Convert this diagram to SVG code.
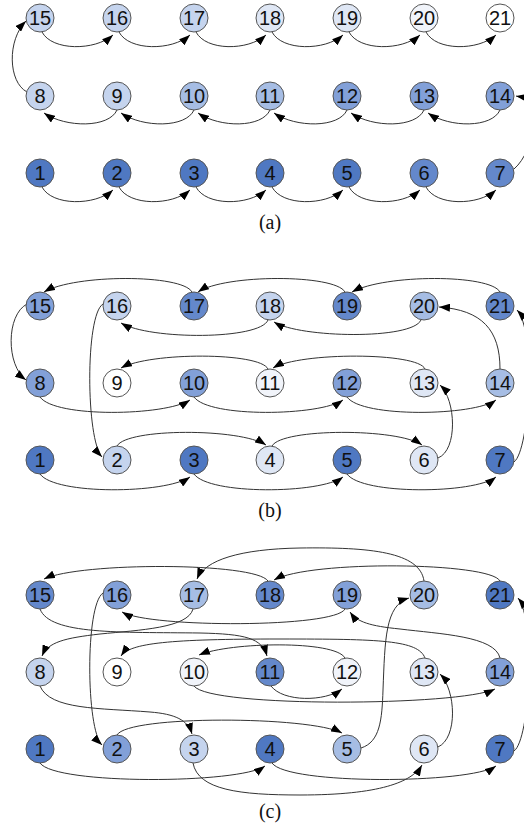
<svg xmlns="http://www.w3.org/2000/svg" width="524" height="826" viewBox="0 0 524 826">
  <defs>
    <marker id="arr" viewBox="0 0 11 8" refX="11" refY="4" markerWidth="11" markerHeight="8" markerUnits="userSpaceOnUse" orient="auto">
      <path d="M0,0 L11,4 L0,8 z" fill="#000"/>
    </marker>
    <style>
      .node circle { stroke: #555; stroke-width: 1; }
      .node text { fill: #111; text-anchor: middle; font-family: 'Liberation Sans', Arial, sans-serif; font-size: 20px; }
      .edges path { fill: none; stroke: #333; stroke-width: 1; marker-end: url(#arr); }
      .cap { fill: #111; text-anchor: middle; font-family: 'Liberation Serif', 'Times New Roman', serif; font-size: 20px; }
      .k1 { fill: #4F78C2; }
      .k2 { fill: #6488CB; }
      .k3 { fill: #82A0D8; }
      .k4 { fill: #A6BDE4; }
      .k5 { fill: #C5D4EE; }
      .k6 { fill: #DFE7F5; }
      .k7 { fill: #F1F4FA; }
      .k8 { fill: #FFFFFF; }
    </style>
  </defs>
  <rect width="524" height="826" fill="#fff"/>

  <!-- ===== panel (a): boustrophedon order ===== -->
  <g id="a-edges" class="edges">
    <path d="M42,187 C52,206 95,206 113,190"/>
    <path d="M119,187 C129,206 172,206 190,190"/>
    <path d="M196,187 C206,206 248,206 266,190"/>
    <path d="M272,187 C282,206 325,206 343,190"/>
    <path d="M349,187 C359,206 402,206 420,190"/>
    <path d="M426,187 C436,206 478,206 496,190"/>
    <path d="M514,169 C536,150 540,100 516,96"/>
    <path d="M500,110 C492,128 450,128 428,113"/>
    <path d="M424,110 C416,128 373,128 351,113"/>
    <path d="M347,110 C339,128 296,128 274,113"/>
    <path d="M270,110 C262,128 220,128 198,113"/>
    <path d="M194,110 C186,128 143,128 121,113"/>
    <path d="M117,110 C109,128 66,128 44,113"/>
    <path d="M27,92 C8,82 7,40 26,21"/>
    <path d="M42,32 C52,51 95,51 113,35"/>
    <path d="M119,32 C129,51 172,51 190,35"/>
    <path d="M196,32 C206,51 248,51 266,35"/>
    <path d="M272,32 C282,51 325,51 343,35"/>
    <path d="M349,32 C359,51 402,51 420,35"/>
    <path d="M426,32 C436,51 478,51 496,35"/>
  </g>
  <g id="a-n1" class="node"><circle class="k1" cx="40" cy="173" r="14"/><text x="40" y="180">1</text></g>
  <g id="a-n2" class="node"><circle class="k1" cx="117" cy="173" r="14"/><text x="117" y="180">2</text></g>
  <g id="a-n3" class="node"><circle class="k1" cx="194" cy="173" r="14"/><text x="194" y="180">3</text></g>
  <g id="a-n4" class="node"><circle class="k1" cx="270" cy="173" r="14"/><text x="270" y="180">4</text></g>
  <g id="a-n5" class="node"><circle class="k1" cx="347" cy="173" r="14"/><text x="347" y="180">5</text></g>
  <g id="a-n6" class="node"><circle class="k2" cx="424" cy="173" r="14"/><text x="424" y="180">6</text></g>
  <g id="a-n7" class="node"><circle class="k2" cx="500" cy="173" r="14"/><text x="500" y="180">7</text></g>
  <g id="a-n8" class="node"><circle class="k5" cx="40" cy="96" r="14"/><text x="40" y="103">8</text></g>
  <g id="a-n9" class="node"><circle class="k5" cx="117" cy="96" r="14"/><text x="117" y="103">9</text></g>
  <g id="a-n10" class="node"><circle class="k4" cx="194" cy="96" r="14"/><text x="194" y="103">10</text></g>
  <g id="a-n11" class="node"><circle class="k4" cx="270" cy="96" r="14"/><text x="270" y="103">11</text></g>
  <g id="a-n12" class="node"><circle class="k3" cx="347" cy="96" r="14"/><text x="347" y="103">12</text></g>
  <g id="a-n13" class="node"><circle class="k3" cx="424" cy="96" r="14"/><text x="424" y="103">13</text></g>
  <g id="a-n14" class="node"><circle class="k3" cx="500" cy="96" r="14"/><text x="500" y="103">14</text></g>
  <g id="a-n15" class="node"><circle class="k5" cx="40" cy="18" r="14"/><text x="40" y="25">15</text></g>
  <g id="a-n16" class="node"><circle class="k5" cx="117" cy="18" r="14"/><text x="117" y="25">16</text></g>
  <g id="a-n17" class="node"><circle class="k5" cx="194" cy="18" r="14"/><text x="194" y="25">17</text></g>
  <g id="a-n18" class="node"><circle class="k6" cx="270" cy="18" r="14"/><text x="270" y="25">18</text></g>
  <g id="a-n19" class="node"><circle class="k6" cx="347" cy="18" r="14"/><text x="347" y="25">19</text></g>
  <g id="a-n20" class="node"><circle class="k7" cx="424" cy="18" r="14"/><text x="424" y="25">20</text></g>
  <g id="a-n21" class="node"><circle class="k8" cx="500" cy="18" r="14"/><text x="500" y="25">21</text></g>
  <text class="cap" x="270" y="229">(a)</text>

  <!-- ===== panel (b) ===== -->
  <g id="b-edges" class="edges">
    <path d="M40,474 C55,495 165,494 190,477"/>
    <path d="M194,474 C209,495 320,494 343,477"/>
    <path d="M347,474 C362,495 474,494 496,477"/>
    <path d="M514,462 C530,450 536,330 517,310"/>
    <path d="M500,292 C490,274 385,274 352,292"/>
    <path d="M345,292 C335,274 225,274 198,292"/>
    <path d="M192,292 C182,274 75,274 44,292"/>
    <path d="M27,304 C6,315 6,365 26,380"/>
    <path d="M40,397 C55,418 165,416 190,400"/>
    <path d="M194,397 C209,418 320,416 343,400"/>
    <path d="M347,397 C362,418 474,416 496,400"/>
    <path d="M500,369 C500,330 482,310 439,307"/>
    <path d="M421,320 C412,340 300,338 274,322"/>
    <path d="M268,320 C260,340 150,340 121,323"/>
    <path d="M103,304 C85,315 86,440 102,457"/>
    <path d="M117,446 C127,428 240,428 266,445"/>
    <path d="M272,446 C282,428 398,428 422,445"/>
    <path d="M438,458 C458,450 456,400 440,385"/>
    <path d="M425,369 C418,352 300,352 273,368"/>
    <path d="M268,369 C260,352 150,352 121,368"/>
  </g>
  <g id="b-n1" class="node"><circle class="k1" cx="40" cy="460" r="14"/><text x="40" y="467">1</text></g>
  <g id="b-n2" class="node"><circle class="k5" cx="117" cy="460" r="14"/><text x="117" y="467">2</text></g>
  <g id="b-n3" class="node"><circle class="k1" cx="194" cy="460" r="14"/><text x="194" y="467">3</text></g>
  <g id="b-n4" class="node"><circle class="k6" cx="270" cy="460" r="14"/><text x="270" y="467">4</text></g>
  <g id="b-n5" class="node"><circle class="k1" cx="347" cy="460" r="14"/><text x="347" y="467">5</text></g>
  <g id="b-n6" class="node"><circle class="k6" cx="424" cy="460" r="14"/><text x="424" y="467">6</text></g>
  <g id="b-n7" class="node"><circle class="k1" cx="500" cy="460" r="14"/><text x="500" y="467">7</text></g>
  <g id="b-n8" class="node"><circle class="k3" cx="40" cy="383" r="14"/><text x="40" y="390">8</text></g>
  <g id="b-n9" class="node"><circle class="k8" cx="117" cy="383" r="14"/><text x="117" y="390">9</text></g>
  <g id="b-n10" class="node"><circle class="k3" cx="194" cy="383" r="14"/><text x="194" y="390">10</text></g>
  <g id="b-n11" class="node"><circle class="k7" cx="270" cy="383" r="14"/><text x="270" y="390">11</text></g>
  <g id="b-n12" class="node"><circle class="k3" cx="347" cy="383" r="14"/><text x="347" y="390">12</text></g>
  <g id="b-n13" class="node"><circle class="k6" cx="424" cy="383" r="14"/><text x="424" y="390">13</text></g>
  <g id="b-n14" class="node"><circle class="k4" cx="500" cy="383" r="14"/><text x="500" y="390">14</text></g>
  <g id="b-n15" class="node"><circle class="k3" cx="40" cy="306" r="14"/><text x="40" y="313">15</text></g>
  <g id="b-n16" class="node"><circle class="k5" cx="117" cy="306" r="14"/><text x="117" y="313">16</text></g>
  <g id="b-n17" class="node"><circle class="k2" cx="194" cy="306" r="14"/><text x="194" y="313">17</text></g>
  <g id="b-n18" class="node"><circle class="k5" cx="270" cy="306" r="14"/><text x="270" y="313">18</text></g>
  <g id="b-n19" class="node"><circle class="k2" cx="347" cy="306" r="14"/><text x="347" y="313">19</text></g>
  <g id="b-n20" class="node"><circle class="k4" cx="424" cy="306" r="14"/><text x="424" y="313">20</text></g>
  <g id="b-n21" class="node"><circle class="k2" cx="500" cy="306" r="14"/><text x="500" y="313">21</text></g>
  <text class="cap" x="270" y="517">(b)</text>

  <!-- ===== panel (c) ===== -->
  <g id="c-edges" class="edges">
    <path d="M40,763 C55,785 240,784 265,766"/>
    <path d="M272,763 C287,785 470,784 496,766"/>
    <path d="M514,751 C530,740 536,620 518,598"/>
    <path d="M500,581 C490,562 310,560 274,580"/>
    <path d="M268,581 C255,562 80,562 44,579"/>
    <path d="M40,609 C50,635 120,632 200,633 C245,634 262,638 267,656"/>
    <path d="M271,686 C283,702 325,702 342,689"/>
    <path d="M345,658 C335,640 230,642 199,655"/>
    <path d="M194,686 C210,708 460,706 495,689"/>
    <path d="M500,658 C495,636 440,634 400,629 C370,626 357,622 350,612"/>
    <path d="M345,609 C335,628 150,628 122,612"/>
    <path d="M103,593 C85,605 86,730 102,745"/>
    <path d="M117,735 C128,715 310,716 342,733"/>
    <path d="M361,748 C380,742 382,720 383,690 C385,640 385,605 409,598"/>
    <path d="M424,581 C420,552 370,547 300,548 C240,549 205,560 197,579"/>
    <path d="M193,609 C188,628 140,630 100,634 C65,638 48,642 42,656"/>
    <path d="M40,686 C50,710 100,708 150,712 C175,714 188,720 192,734"/>
    <path d="M193,763 C198,790 240,795 300,795 C380,795 412,782 422,765"/>
    <path d="M438,747 C458,738 456,690 440,674"/>
    <path d="M425,658 C418,640 380,639 280,639 C170,639 130,643 121,656"/>
  </g>
  <g id="c-n1" class="node"><circle class="k1" cx="40" cy="749" r="14"/><text x="40" y="756">1</text></g>
  <g id="c-n2" class="node"><circle class="k3" cx="117" cy="749" r="14"/><text x="117" y="756">2</text></g>
  <g id="c-n3" class="node"><circle class="k5" cx="194" cy="749" r="14"/><text x="194" y="756">3</text></g>
  <g id="c-n4" class="node"><circle class="k1" cx="270" cy="749" r="14"/><text x="270" y="756">4</text></g>
  <g id="c-n5" class="node"><circle class="k4" cx="347" cy="749" r="14"/><text x="347" y="756">5</text></g>
  <g id="c-n6" class="node"><circle class="k6" cx="424" cy="749" r="14"/><text x="424" y="756">6</text></g>
  <g id="c-n7" class="node"><circle class="k1" cx="500" cy="749" r="14"/><text x="500" y="756">7</text></g>
  <g id="c-n8" class="node"><circle class="k5" cx="40" cy="672" r="14"/><text x="40" y="679">8</text></g>
  <g id="c-n9" class="node"><circle class="k8" cx="117" cy="672" r="14"/><text x="117" y="679">9</text></g>
  <g id="c-n10" class="node"><circle class="k7" cx="194" cy="672" r="14"/><text x="194" y="679">10</text></g>
  <g id="c-n11" class="node"><circle class="k2" cx="270" cy="672" r="14"/><text x="270" y="679">11</text></g>
  <g id="c-n12" class="node"><circle class="k7" cx="347" cy="672" r="14"/><text x="347" y="679">12</text></g>
  <g id="c-n13" class="node"><circle class="k6" cx="424" cy="672" r="14"/><text x="424" y="679">13</text></g>
  <g id="c-n14" class="node"><circle class="k3" cx="500" cy="672" r="14"/><text x="500" y="679">14</text></g>
  <g id="c-n15" class="node"><circle class="k2" cx="40" cy="595" r="14"/><text x="40" y="602">15</text></g>
  <g id="c-n16" class="node"><circle class="k3" cx="117" cy="595" r="14"/><text x="117" y="602">16</text></g>
  <g id="c-n17" class="node"><circle class="k4" cx="194" cy="595" r="14"/><text x="194" y="602">17</text></g>
  <g id="c-n18" class="node"><circle class="k2" cx="270" cy="595" r="14"/><text x="270" y="602">18</text></g>
  <g id="c-n19" class="node"><circle class="k3" cx="347" cy="595" r="14"/><text x="347" y="602">19</text></g>
  <g id="c-n20" class="node"><circle class="k4" cx="424" cy="595" r="14"/><text x="424" y="602">20</text></g>
  <g id="c-n21" class="node"><circle class="k1" cx="500" cy="595" r="14"/><text x="500" y="602">21</text></g>
  <text class="cap" x="270" y="818">(c)</text>
</svg>
